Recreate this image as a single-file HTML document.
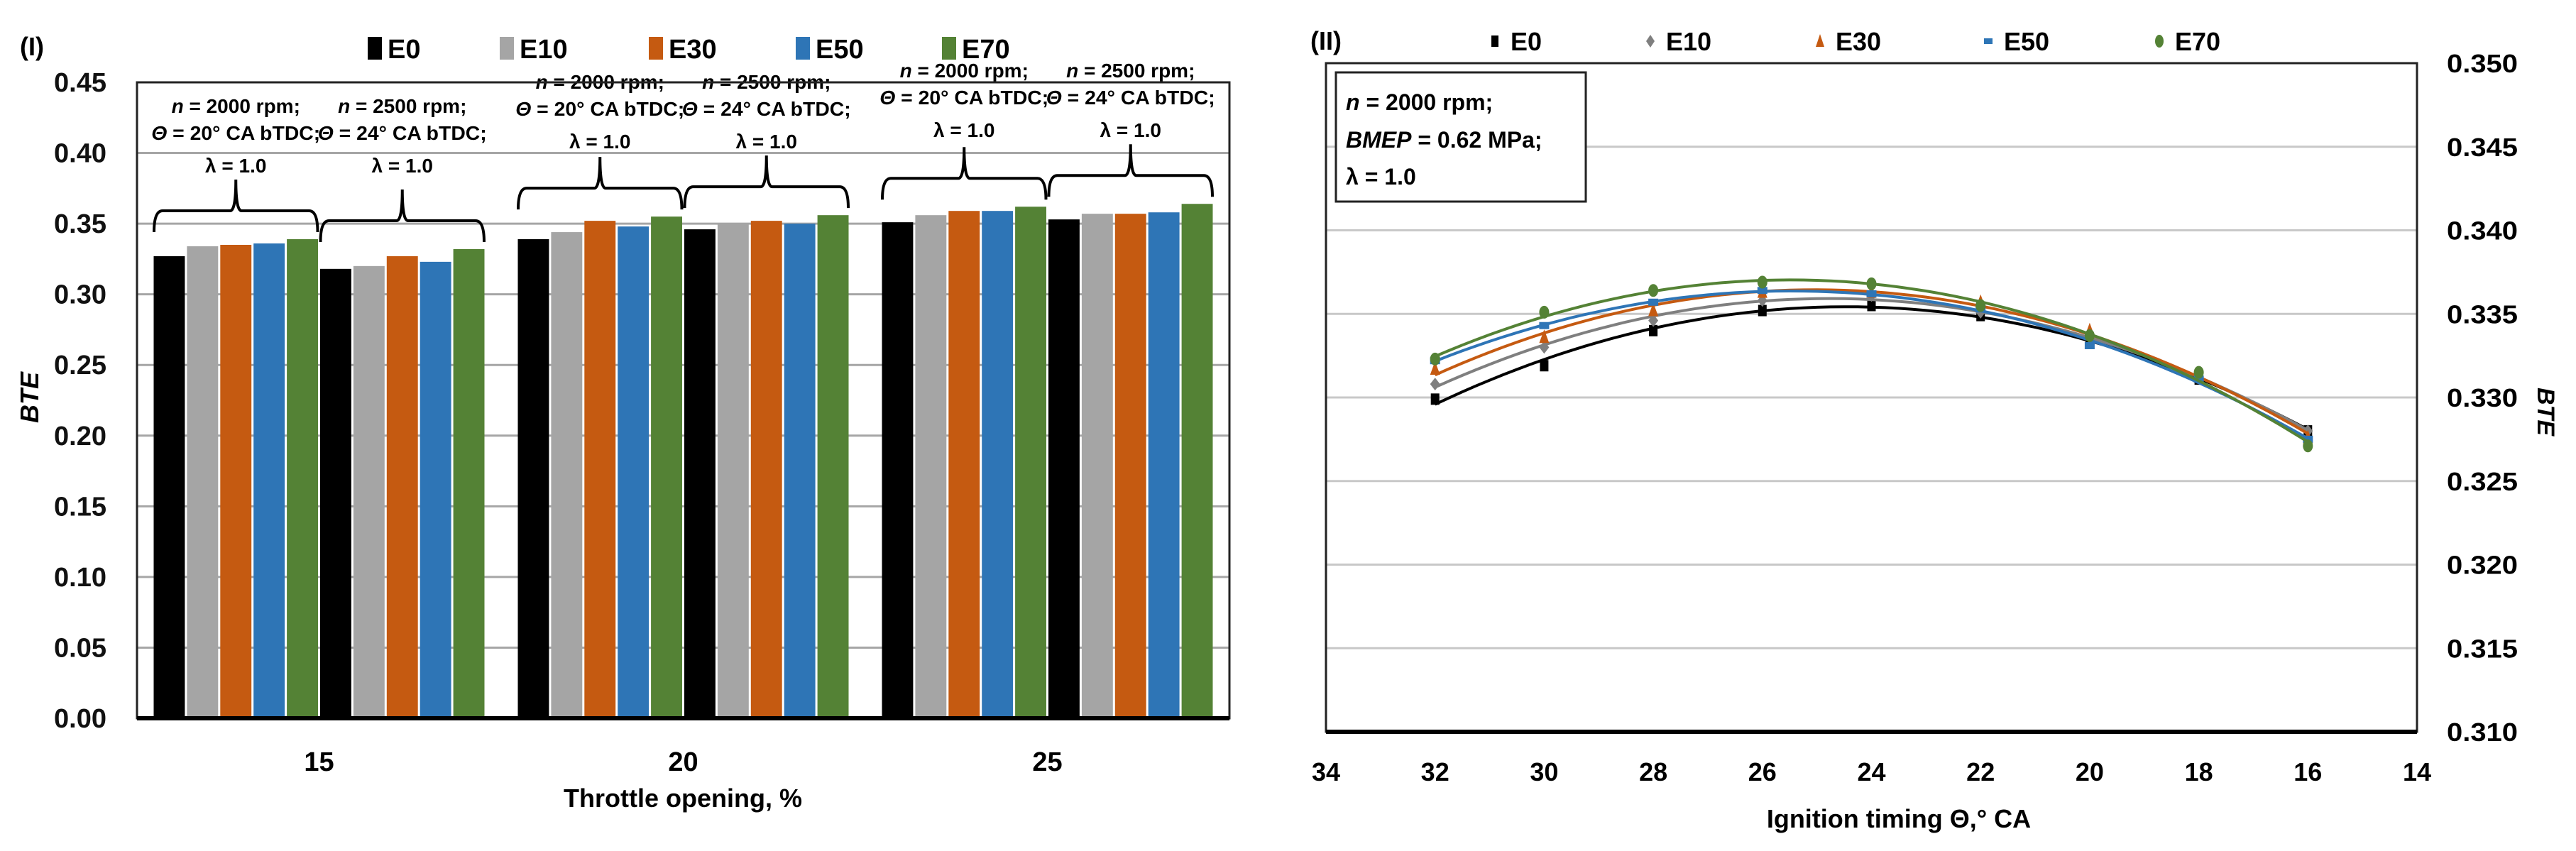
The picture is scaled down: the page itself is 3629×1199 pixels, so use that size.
<!DOCTYPE html>
<html><head><meta charset="utf-8"><style>
html,body{margin:0;padding:0;background:#fff}
svg{display:block;font-family:"Liberation Sans",sans-serif;font-weight:bold}
</style></head><body>
<svg id="fig" width="3629" height="1199" viewBox="0 0 3629 1199" xmlns="http://www.w3.org/2000/svg">
<g id="left"></g>
<g id="right"></g>
</svg>
<script>
// ---- Panel I data ----
const categories = ["15","20","25"];
const seriesNames = ["E0","E10","E30","E50","E70"];
const barE0  = [0.327,0.318,0.339,0.346,0.351,0.353];
const barE10 = [0.334,0.320,0.344,0.350,0.356,0.357];
const barE30 = [0.335,0.327,0.352,0.352,0.359,0.357];
const barE50 = [0.336,0.323,0.348,0.350,0.359,0.358];
const barE70 = [0.339,0.332,0.355,0.356,0.362,0.364];
const groupN = ["2000","2500","2000","2500","2000","2500"];
const groupTheta = ["20","24","20","24","20","24"];
const leftTicks = ["0.00","0.05","0.10","0.15","0.20","0.25","0.30","0.35","0.40","0.45"];
// ---- Panel II data ----
const timing = [32,30,28,26,24,22,20,18,16];
const lineE0  = [0.3299,0.3319,0.3340,0.3352,0.3355,0.3349,0.3335,0.3311,0.3280];
const lineE10 = [0.3308,0.3330,0.3346,0.3358,0.3361,0.3351,0.3336,0.3312,0.3280];
const lineE30 = [0.3317,0.3336,0.3352,0.3363,0.3363,0.3357,0.3340,0.3313,0.3276];
const lineE50 = [0.3322,0.3343,0.3357,0.3364,0.3362,0.3353,0.3331,0.3311,0.3275];
const lineE70 = [0.3323,0.3351,0.3364,0.3369,0.3368,0.3355,0.3337,0.3315,0.3271];
const xTicks = [34,32,30,28,26,24,22,20,18,16,14];
const rightTicks = ["0.310","0.315","0.320","0.325","0.330","0.335","0.340","0.345","0.350"];

const NS="http://www.w3.org/2000/svg";
const colors=["#000000","#a5a5a5","#c55a11","#2e75b6","#548235"];
function mk(parent,tag,attrs,text){const e=document.createElementNS(NS,tag);for(const k in attrs)e.setAttribute(k,attrs[k]);if(text!==undefined)e.textContent=text;parent.appendChild(e);return e;}

// ===== Panel I =====
const L=document.getElementById('left');
const pL=193,pR=1732,pT=116,pB=1012;
const yB=v=>pB-(v/0.45)*(pB-pT);
const catW=(pR-pL)/categories.length;
const xCat=i=>pL+catW*(i+0.5);
for(let i=0;i<leftTicks.length;i++){
  const v=parseFloat(leftTicks[i]);const y=yB(v);
  const g=mk(L,'line',{x1:pL,x2:pR,y1:y,y2:y,stroke:'#a6a6a6','stroke-width':3});
  
  
  const t=mk(L,'text',{x:150,y:y+13,'font-size':38,'text-anchor':'end',fill:'#111',textLength:74,lengthAdjust:'spacingAndGlyphs'},leftTicks[i]);
  
  
}
const allBars=[barE0,barE10,barE30,barE50,barE70];
const pad=22, slot=(catW-2*pad)/10;
function groupMax(g){let m=0;for(let s=0;s<5;s++)m=Math.max(m,allBars[s][g]);return m;}
for(let g=0;g<6;g++){
  const c=Math.floor(g/2), sub=g%2;
  const x0=pL+catW*c+pad+sub*5*slot;
  const mx=groupMax(g);
  for(let s=0;s<5;s++){
    const v=allBars[s][g];
    const r=mk(L,'rect',{x:x0+s*slot+1.5,y:yB(v),width:slot-3,height:pB-yB(v),fill:colors[s]});
    
    
  }
  const x1=x0+2, x2=x0+5*slot-2, xm=(x1+x2)/2;
  const hy=yB(mx)-40, tip=hy-44;
  const pairMax=Math.max(groupMax(2*c),groupMax(2*c+1));
  const ttip=yB(pairMax)-84;
  const br=mk(L,'path',{d:`M${x1},${hy+30} Q${x1},${hy} ${x1+12},${hy} L${xm-8},${hy} Q${xm},${hy} ${xm},${tip} Q${xm},${hy} ${xm+8},${hy} L${x2-12},${hy} Q${x2},${hy} ${x2},${hy+30}`,fill:'none',stroke:'#000','stroke-width':4});
  
  
  const t1=mk(L,'text',{x:xm,y:ttip-94,'font-size':28,'text-anchor':'middle'});
  
  
  mk(t1,'tspan',{'font-style':'italic'},'n');mk(t1,'tspan',{},' = '+groupN[g]+' rpm;');
  const t2=mk(L,'text',{x:xm,y:ttip-56,'font-size':28,'text-anchor':'middle',textLength:238,lengthAdjust:'spacingAndGlyphs'});
  
  
  mk(t2,'tspan',{'font-style':'italic'},'Θ');mk(t2,'tspan',{},' = '+groupTheta[g]+'° CA bTDC;');
  const t3=mk(L,'text',{x:xm,y:ttip-10,'font-size':28,'text-anchor':'middle'},'λ = 1.0');
  
  
}
mk(L,'rect',{x:pL,y:pT,width:pR-pL,height:pB-pT,fill:'none',stroke:'#222','stroke-width':3});
mk(L,'line',{x1:pL,x2:pR,y1:pB,y2:pB,stroke:'#000','stroke-width':6});
for(let i=0;i<categories.length;i++){
  const t=mk(L,'text',{x:xCat(i),y:1086,'font-size':38,'text-anchor':'middle'},categories[i]);
  
  
}
</script>
<script>
(function(){
const L=document.getElementById('left');
let t=mk(L,'text',{x:962,y:1137,'font-size':36,'text-anchor':'middle'},'Throttle opening, %');

t=mk(L,'text',{x:0,y:0,'font-size':36,'font-style':'italic','text-anchor':'middle',transform:'translate(54,560) rotate(-90)'},'BTE');

t=mk(L,'text',{x:28,y:78,'font-size':36},'(I)');

const lx=[528,714,924,1131,1337];
for(let s=0;s<5;s++){
  const g=mk(L,'g',{});
  
  
  mk(g,'rect',{x:lx[s]-10,y:52,width:20,height:32,fill:colors[s]});
  mk(g,'text',{x:lx[s]+18,y:82,'font-size':38},seriesNames[s]);
}

// ===== Panel II =====
const R=document.getElementById('right');
const qL=1868,qR=3405,qT=89,qB=1031;
const xS=v=>qL+(34-v)/20*(qR-qL);
const yS=v=>qB-(v-0.310)/0.040*(qB-qT);
for(let i=0;i<rightTicks.length;i++){
  const v=parseFloat(rightTicks[i]);const y=yS(v);
  const g=mk(R,'line',{x1:qL,x2:qR,y1:y,y2:y,stroke:'#c8c8c8','stroke-width':3});
  
  const tt=mk(R,'text',{x:3447,y:y+13,'font-size':36,textLength:100,lengthAdjust:'spacingAndGlyphs'},rightTicks[i]);
  
}
for(let i=0;i<xTicks.length;i++){
  const tt=mk(R,'text',{x:xS(xTicks[i]),y:1100,'font-size':36,'text-anchor':'middle'},String(xTicks[i]));
  
}
mk(R,'rect',{x:qL,y:qT,width:qR-qL,height:qB-qT,fill:'none',stroke:'#222','stroke-width':3});
mk(R,'line',{x1:qL,x2:qR,y1:qB,y2:qB,stroke:'#000','stroke-width':6});
const lines=[lineE0,lineE10,lineE30,lineE50,lineE70];
const lcol=["#000000","#7f7f7f","#c55a11","#2e75b6","#548235"];
function fit(xs,ys){let n=xs.length,S=[0,0,0,0,0],T=[0,0,0];
  for(let i=0;i<n;i++){let p=1;for(let k=0;k<5;k++){S[k]+=p;if(k<3)T[k]+=p*ys[i];p*=xs[i];}}
  const A=[[S[0],S[1],S[2],T[0]],[S[1],S[2],S[3],T[1]],[S[2],S[3],S[4],T[2]]];
  for(let i=0;i<3;i++){for(let j=i+1;j<3;j++){const f=A[j][i]/A[i][i];for(let k=i;k<4;k++)A[j][k]-=f*A[i][k];}}
  const c=[0,0,0];for(let i=2;i>=0;i--){let s=A[i][3];for(let k=i+1;k<3;k++)s-=A[i][k]*c[k];c[i]=s/A[i][i];}return c;}
for(let s=0;s<5;s++){
  const c=fit(timing,lines[s]);let d='';
  for(let x=32;x>=15.999;x-=0.25){const v=c[0]+c[1]*x+c[2]*x*x;d+=(d?'L':'M')+xS(x).toFixed(1)+','+yS(v).toFixed(1);}
  const p=mk(R,'path',{d:d,fill:'none',stroke:lcol[s],'stroke-width':4});
  
  
  for(let i=0;i<timing.length;i++){
    const x=xS(timing[i]),y=yS(lines[s][i]);let m;
    if(s===0)m=mk(R,'rect',{x:x-6,y:y-8,width:12,height:16,fill:lcol[s]});
    else if(s===1)m=mk(R,'path',{d:`M${x},${y-9}L${x+7},${y}L${x},${y+9}L${x-7},${y}Z`,fill:lcol[s]});
    else if(s===2)m=mk(R,'path',{d:`M${x},${y-11}L${x+7},${y+8}L${x-7},${y+8}Z`,fill:lcol[s]});
    else if(s===3)m=mk(R,'rect',{x:x-7,y:y-5,width:14,height:10,fill:lcol[s]});
    else m=mk(R,'ellipse',{cx:x,cy:y,rx:7,ry:9,fill:lcol[s]});
    
    
  }
}
const lx2=[2106,2325,2564,2801,3042];
for(let s=0;s<5;s++){
  const g=mk(R,'g',{});
  
  
  const y=58;
  if(s===0)mk(g,'rect',{x:lx2[s]-5,y:y-8,width:10,height:16,fill:lcol[s]});
  else if(s===1)mk(g,'path',{d:`M${lx2[s]},${y-9}L${lx2[s]+6},${y}L${lx2[s]},${y+9}L${lx2[s]-6},${y}Z`,fill:lcol[s]});
  else if(s===2)mk(g,'path',{d:`M${lx2[s]},${y-10}L${lx2[s]+6},${y+8}L${lx2[s]-6},${y+8}Z`,fill:lcol[s]});
  else if(s===3)mk(g,'rect',{x:lx2[s]-6,y:y-4,width:12,height:8,fill:lcol[s]});
  else mk(g,'ellipse',{cx:lx2[s],cy:y,rx:6,ry:9,fill:lcol[s]});
  mk(g,'text',{x:lx2[s]+22,y:y+13,'font-size':36},seriesNames[s]);
}
t=mk(R,'text',{x:1846,y:70,'font-size':36},'(II)');

const box=mk(R,'g',{});

mk(box,'rect',{x:1882,y:102,width:352,height:182,fill:'#fff',stroke:'#222','stroke-width':3});
let a=mk(box,'text',{x:1896,y:155,'font-size':32});mk(a,'tspan',{'font-style':'italic'},'n');mk(a,'tspan',{},' = 2000 rpm;');
a=mk(box,'text',{x:1896,y:208,'font-size':32});mk(a,'tspan',{'font-style':'italic'},'BMEP');mk(a,'tspan',{},' = 0.62 MPa;');
mk(box,'text',{x:1896,y:260,'font-size':32},'λ = 1.0');
t=mk(R,'text',{x:2675,y:1166,'font-size':36,'text-anchor':'middle'},'Ignition timing Θ,° CA');

t=mk(R,'text',{x:0,y:0,'font-size':34,'font-style':'italic','text-anchor':'middle',transform:'translate(3575,580) rotate(90)'},'BTE');

})();
</script>
</body></html>
